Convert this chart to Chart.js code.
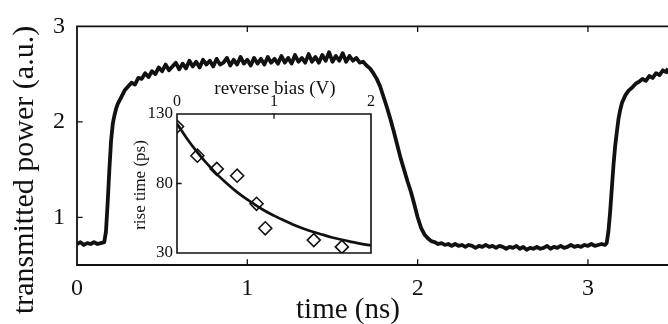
<!DOCTYPE html>
<html><head><meta charset="utf-8">
<script src="https://cdn.jsdelivr.net/npm/chart.js@4/dist/chart.umd.min.js"></script>
<style>
html,body{margin:0;padding:0;background:#fff;}
#wrap{position:relative;width:668px;height:324px;overflow:hidden;}
canvas{position:absolute;left:0;top:0;}
</style></head><body>
<div id="wrap">
<canvas id="main" width="668" height="324"></canvas>
<canvas id="inset" width="668" height="324"></canvas>
</div>
<script>
// ---- main trace: time (ns) and transmitted power (a.u.) ----
const timeNs = [
0.00,0.02,0.04,0.06,0.08,0.10,0.12,0.14,0.16,0.17,0.18,0.19,0.20,0.21,0.22,0.23,0.24,0.26,0.28,0.30,
0.32,0.34,0.36,0.38,0.40,0.42,0.44,0.46,0.48,0.50,0.52,0.54,0.56,0.58,0.60,0.62,0.64,0.66,0.68,0.70,
0.72,0.74,0.76,0.78,0.80,0.82,0.84,0.86,0.88,0.90,0.92,0.94,0.96,0.98,1.00,1.02,1.04,1.06,1.08,1.10,
1.12,1.14,1.16,1.18,1.20,1.22,1.24,1.26,1.28,1.30,1.32,1.34,1.36,1.38,1.40,1.42,1.44,1.46,1.48,1.50,
1.52,1.54,1.56,1.58,1.60,1.62,1.64,1.66,1.68,1.70,1.72,1.74,1.76,1.78,1.80,1.82,1.84,1.86,1.88,1.90,
1.92,1.94,1.96,1.98,2.00,2.02,2.04,2.06,2.08,2.10,2.12,2.14,2.16,2.18,2.20,2.22,2.24,2.26,2.28,2.30,
2.32,2.34,2.36,2.38,2.40,2.42,2.44,2.46,2.48,2.50,2.52,2.54,2.56,2.58,2.60,2.62,2.64,2.66,2.68,2.70,
2.72,2.74,2.76,2.78,2.80,2.82,2.84,2.86,2.88,2.90,2.92,2.94,2.96,2.98,3.00,3.02,3.04,3.06,3.08,3.10,
3.11,3.12,3.13,3.14,3.15,3.16,3.17,3.18,3.19,3.20,3.22,3.24,3.26,3.28,3.30,3.32,3.34,3.36,3.38,3.40,
3.42,3.44,3.46,3.47];
const powerAU = [
0.72,0.74,0.71,0.73,0.72,0.74,0.72,0.73,0.74,0.85,1.15,1.50,1.80,1.98,2.07,2.14,2.19,2.26,2.33,2.37,
2.41,2.39,2.46,2.45,2.51,2.47,2.53,2.50,2.57,2.53,2.60,2.54,2.58,2.62,2.55,2.61,2.56,2.64,2.58,2.63,
2.57,2.65,2.60,2.64,2.58,2.66,2.60,2.62,2.67,2.59,2.65,2.60,2.68,2.61,2.65,2.59,2.67,2.61,2.66,2.60,
2.68,2.62,2.66,2.61,2.69,2.62,2.67,2.61,2.70,2.63,2.67,2.62,2.71,2.63,2.68,2.62,2.70,2.64,2.73,2.63,
2.69,2.64,2.72,2.63,2.69,2.64,2.67,2.62,2.63,2.59,2.56,2.51,2.45,2.37,2.26,2.15,2.03,1.90,1.76,1.62,
1.50,1.38,1.27,1.14,1.00,0.89,0.82,0.78,0.75,0.74,0.72,0.73,0.71,0.72,0.70,0.72,0.70,0.71,0.69,0.71,
0.70,0.68,0.70,0.69,0.71,0.69,0.70,0.68,0.70,0.69,0.67,0.69,0.68,0.70,0.67,0.69,0.66,0.68,0.67,0.69,
0.67,0.68,0.70,0.67,0.69,0.68,0.70,0.68,0.69,0.71,0.69,0.70,0.69,0.71,0.70,0.72,0.70,0.71,0.72,0.71,
0.73,0.85,1.05,1.30,1.55,1.75,1.90,2.04,2.13,2.20,2.28,2.33,2.36,2.40,2.42,2.45,2.43,2.48,2.46,2.51,
2.49,2.54,2.52,2.56];
const mainXTicks = [0,1,2,3];
const mainYTicks = [1,2,3];

// ---- inset: rise time vs reverse bias ----
const biasV = [0.00,0.21,0.41,0.62,0.82,0.91,1.41,1.70];
const riseTimePs = [121,100,90.5,85.6,65.4,47.8,39.3,34.4];
const fitBiasV = [0,0.1,0.2,0.3,0.4,0.5,0.6,0.7,0.8,0.9,1.0,1.1,1.2,1.3,1.4,1.5,1.6,1.7,1.8,1.9,2.0];
const fitRisePs = [123.0,112.6,103.3,95.0,87.5,80.9,74.9,69.6,64.9,60.6,56.9,53.5,50.4,47.7,45.3,43.2,41.2,39.5,38.0,36.6,35.4];
const insetXTicks = [0,1,2];
const insetYTicks = [30,80,130];

const SERIF = "'Liberation Serif','Times New Roman',serif";
const INK = '#111';

function framePlugin(opts){
  return {
    id:'frame'+opts.id,
    afterDatasetsDraw(chart){
      const ctx = chart.ctx, a = chart.chartArea;
      const xs = chart.scales.x, ys = chart.scales.y;
      ctx.save();
      ctx.strokeStyle = INK; ctx.lineWidth = opts.lw; ctx.lineCap='square';
      ctx.beginPath();
      if(opts.box){
        ctx.rect(a.left, a.top, a.right-a.left, a.bottom-a.top);
      } else {
        ctx.moveTo(a.right+2, a.top); ctx.lineTo(a.left, a.top);
        ctx.lineTo(a.left, a.bottom); ctx.lineTo(a.right+2, a.bottom);
      }
      ctx.stroke();
      ctx.lineWidth = 1.3;
      ctx.beginPath();
      opts.xt.forEach(v=>{
        const px = xs.getPixelForValue(v);
        if(px<=a.left+1 || px>=a.right-1) return;
        if(opts.top){ctx.moveTo(px,a.top); ctx.lineTo(px,a.top+opts.tl);}
        if(opts.bottom){ctx.moveTo(px,a.bottom); ctx.lineTo(px,a.bottom-opts.tl);}
      });
      opts.yt.forEach(v=>{
        const py = ys.getPixelForValue(v);
        if(py<=a.top+1 || py>=a.bottom-1) return;
        ctx.moveTo(a.left,py); ctx.lineTo(a.left+opts.tl,py);
      });
      ctx.stroke();
      ctx.fillStyle = INK;
      opts.titles.forEach(t=>{
        ctx.save();
        ctx.font = t.size+'px '+SERIF;
        ctx.textAlign='center'; ctx.textBaseline='middle';
        ctx.translate(t.x,t.y);
        if(t.rot) ctx.rotate(-Math.PI/2);
        ctx.fillText(t.text,0,0);
        ctx.restore();
      });
      ctx.restore();
    }
  };
}

new Chart(document.getElementById('main'), {
  type:'line',
  data:{datasets:[{
    data: timeNs.map((t,i)=>({x:t,y:powerAU[i]})),
    borderColor:INK, borderWidth:3.8, pointRadius:0, tension:0, borderJoinStyle:'round'
  }]},
  options:{
    responsive:false, animation:false, devicePixelRatio:1,
    layout:{padding:{left:0,right:0,top:17,bottom:0}},
    plugins:{legend:{display:false},tooltip:{enabled:false}},
    scales:{
      x:{type:'linear',min:0,max:3.47,
        afterBuildTicks:s=>{s.ticks=mainXTicks.map(v=>({value:v}));},
        afterFit:s=>{s.height=59;},
        grid:{display:false,drawTicks:false}, border:{display:false},
        ticks:{font:{family:SERIF,size:24},color:INK,padding:9,maxRotation:0,autoSkip:false}},
      y:{type:'linear',min:0.5,max:3,
        afterBuildTicks:s=>{s.ticks=mainYTicks.map(v=>({value:v}));},
        afterFit:s=>{s.width=77;},
        grid:{display:false,drawTicks:false}, border:{display:false},
        ticks:{font:{family:SERIF,size:24},color:INK,padding:12}}
    }
  },
  plugins:[framePlugin({id:'m',lw:1.8,box:false,top:true,bottom:true,tl:5,xt:mainXTicks,yt:mainYTicks,
    titles:[{text:'transmitted power (a.u.)',x:25,y:170,size:30,rot:true},
            {text:'time (ns)',x:348,y:310,size:29}]})]
});

new Chart(document.getElementById('inset'), {
  type:'scatter',
  data:{datasets:[
    {type:'line',data:fitBiasV.map((v,i)=>({x:v,y:fitRisePs[i]})),borderColor:INK,borderWidth:2.7,pointRadius:0,tension:0.4,order:0},
    {data:biasV.map((v,i)=>({x:v,y:riseTimePs[i]})),pointStyle:'rectRot',pointRadius:6.5,pointBorderWidth:1.6,
     pointBorderColor:INK,pointBackgroundColor:'#fff',order:1}
  ]},
  options:{
    responsive:false, animation:false, devicePixelRatio:1,
    layout:{padding:{left:0,right:297,top:0,bottom:71}},
    plugins:{legend:{display:false},tooltip:{enabled:false}},
    scales:{
      x:{type:'linear',position:'top',min:0,max:2,
        afterBuildTicks:s=>{s.ticks=insetXTicks.map(v=>({value:v}));},
        afterFit:s=>{s.height=114;},
        grid:{display:false,drawTicks:false}, border:{display:false},
        ticks:{font:{family:SERIF,size:16},color:INK,padding:3,maxRotation:0,autoSkip:false}},
      y:{type:'linear',min:30,max:130,
        afterBuildTicks:s=>{s.ticks=insetYTicks.map(v=>({value:v}));},
        afterFit:s=>{s.width=177;},
        grid:{display:false,drawTicks:false}, border:{display:false},
        ticks:{font:{family:SERIF,size:17},color:INK,padding:4}}
    }
  },
  plugins:[framePlugin({id:'i',lw:1.6,box:true,top:true,bottom:false,tl:4,xt:insetXTicks,yt:insetYTicks,
    titles:[{text:'reverse bias (V)',x:275,y:89,size:19},
            {text:'rise time (ps)',x:141,y:185,size:17,rot:true}]})]
});
</script>
</body></html>
